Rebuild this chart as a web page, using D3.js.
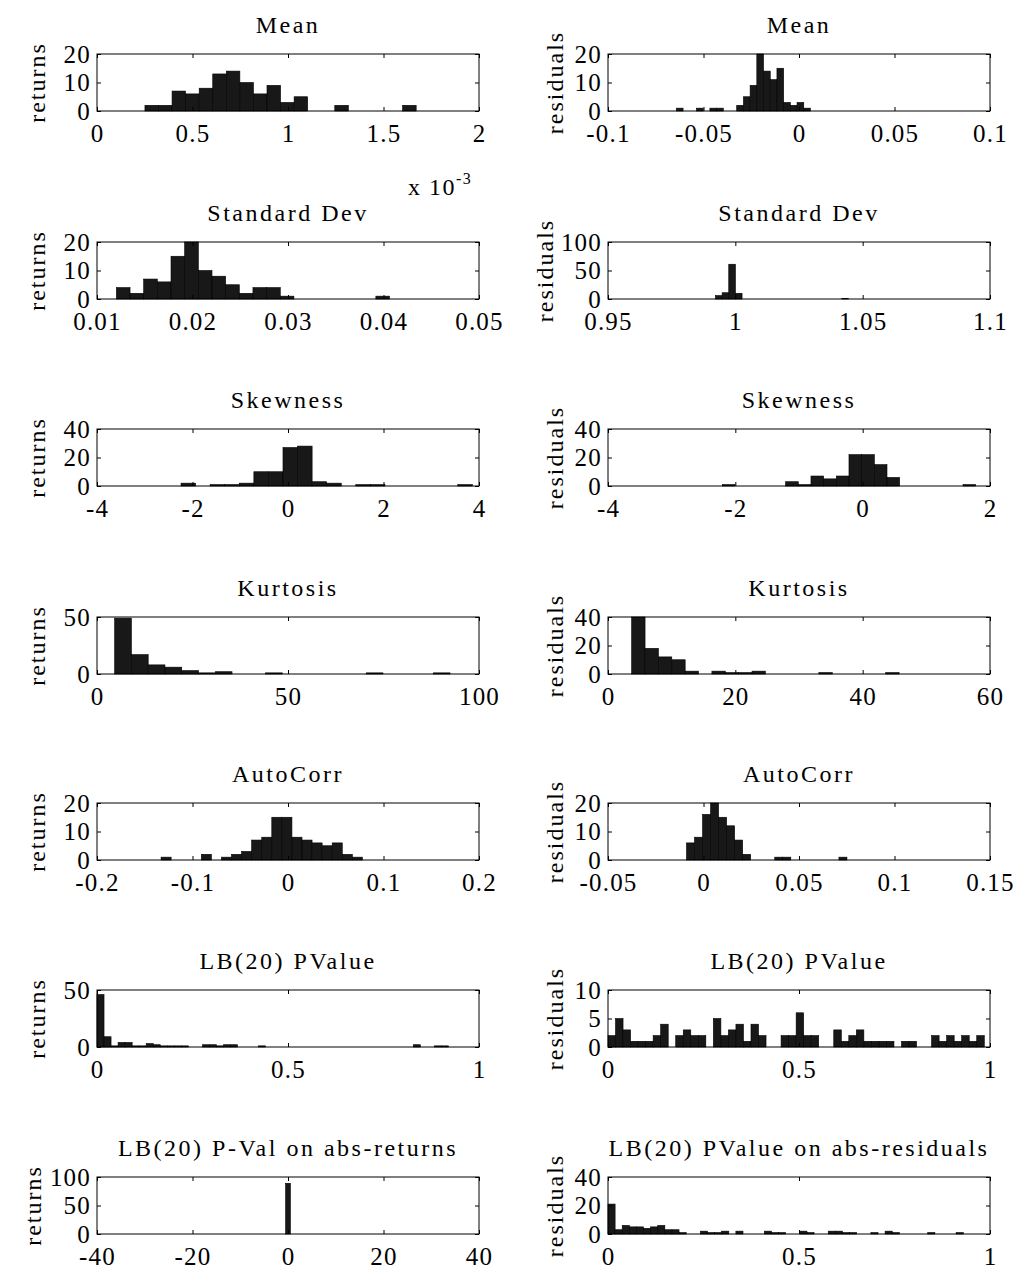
<!DOCTYPE html>
<html>
<head>
<meta charset="utf-8">
<script src="https://cdn.jsdelivr.net/npm/d3@7"></script>
<style>
  body { margin: 0; background: #fff; }
  text { font-family: "Liberation Serif", "Times New Roman", serif; fill: #000; }
</style>
</head>
<body>
<div id="chart"></div>
<script>
// panel titles
var titlesLeft = ["Mean", "Standard Dev", "Skewness", "Kurtosis", "AutoCorr", "LB(20) PValue", "LB(20) P-Val on abs-returns"];
var titlesRight = ["Mean", "Standard Dev", "Skewness", "Kurtosis", "AutoCorr", "LB(20) PValue", "LB(20) PValue on abs-residuals"];

// x tick labels (first and last are the axis limits)
var xTicksLeft = [[0, 0.5, 1, 1.5, 2], [0.01, 0.02, 0.03, 0.04, 0.05], [-4, -2, 0, 2, 4], [0, 50, 100],
                  [-0.2, -0.1, 0, 0.1, 0.2], [0, 0.5, 1], [-40, -20, 0, 20, 40]];
var xTicksRight = [[-0.1, -0.05, 0, 0.05, 0.1], [0.95, 1, 1.05, 1.1], [-4, -2, 0, 2], [0, 20, 40, 60],
                   [-0.05, 0, 0.05, 0.1, 0.15], [0, 0.5, 1], [0, 0.5, 1]];
// y tick labels
var yTicksLeft = [[0, 10, 20], [0, 10, 20], [0, 20, 40], [0, 50], [0, 10, 20], [0, 50], [0, 50, 100]];
var yTicksRight = [[0, 10, 20], [0, 50, 100], [0, 20, 40], [0, 20, 40], [0, 10, 20], [0, 5, 10], [0, 20, 40]];

// histogram bins: first edge and bin width (in axis units)
var binStartLeft = [0.251, 0.01203, -2.24, 4.62, -0.1329, 0, -25.5];
var binWidthLeft = [0.071, 0.00143, 0.305, 4.39, 0.01054, 0.0184, 1];
var binStartRight = [-0.0642, 0.9922, -2.205, 3.72, -0.0089, 0, 0];
var binWidthRight = [0.00351, 0.00261, 0.199, 2.1, 0.0042, 0.0197, 0.0186];

// counts, returns (left column)
var meanRet = [2, 2, 7, 6, 8, 13, 14, 10, 6, 9, 3, 5, 0, 0, 2, 0, 0, 0, 0, 2];
var stdRet = [4, 2, 7, 6, 15, 20, 10, 8, 5, 2, 4, 4, 1, 0, 0, 0, 0, 0, 0, 1];
var skewRet = [2, 0, 1, 1, 2, 10, 10, 27, 28, 3, 2, 0, 1, 1, 0, 0, 0, 0, 0, 1];
var kurtRet = [49, 17, 8, 6, 3, 1, 2, 0, 0, 1, 0, 0, 0, 0, 0, 1, 0, 0, 0, 1];
var acRet = [1, 0, 0, 0, 2, 0, 1, 2, 3, 7, 8, 15, 15, 8, 7, 6, 5, 6, 2, 1];
var lbRet = [46, 9, 1, 4, 4, 1, 1, 3, 2, 1, 1, 1, 1, 0, 0, 2, 2, 1, 2, 2, 0, 0, 0, 1, 0,
             0, 0, 0, 0, 0, 0, 0, 0, 0, 0, 0, 0, 0, 0, 0, 0, 0, 0, 0, 0, 2, 0, 0, 1, 1];
var lbAbsRet = [0, 0, 0, 0, 0, 0, 0, 0, 0, 0, 0, 0, 0, 0, 0, 0, 0, 0, 0, 0, 0, 0, 0, 0, 0,
                89, 0, 0, 0, 0, 0, 0, 0, 0, 0, 0, 0, 0, 0, 0, 0, 0, 0, 0, 0, 0, 0, 0, 0, 0];

// counts, residuals (right column)
var meanRes = [1, 0, 0, 1, 0, 1, 1, 0, 0, 2, 5, 9, 20, 14, 11, 15, 3, 2, 3, 1];
var stdRes = [6, 11, 61, 10, 0, 0, 0, 0, 0, 0, 0, 0, 0, 0, 0, 0, 0, 0, 0, 1];
var skewRes = [1, 0, 0, 0, 0, 3, 1, 7, 5, 7, 22, 22, 15, 6, 0, 0, 0, 0, 0, 1];
var kurtRes = [40, 18, 12, 10, 2, 0, 2, 1, 1, 2, 0, 0, 0, 0, 1, 0, 0, 0, 0, 1];
var acRes = [6, 8, 16, 20, 15, 12, 7, 2, 0, 0, 0, 1, 1, 0, 0, 0, 0, 0, 0, 1];
var lbRes = [2, 5, 3, 1, 1, 1, 2, 4, 0, 2, 3, 2, 2, 0, 5, 2, 3, 4, 1, 4, 2, 0, 0, 2, 2,
             6, 2, 2, 0, 0, 3, 1, 2, 3, 1, 1, 1, 1, 0, 1, 1, 0, 0, 2, 1, 2, 1, 2, 1, 2];
var lbAbsRes = [21, 3, 6, 5, 5, 4, 5, 6, 3, 3, 1, 0, 0, 2, 1, 1, 2, 0, 2, 0, 0, 0, 2, 1, 1,
                0, 0, 2, 1, 0, 0, 2, 2, 1, 1, 0, 0, 1, 0, 2, 1, 0, 0, 0, 0, 1, 0, 0, 0, 1];

var countsLeft = [meanRet, stdRet, skewRet, kurtRet, acRet, lbRet, lbAbsRet];
var countsRight = [meanRes, stdRes, skewRes, kurtRes, acRes, lbRes, lbAbsRes];

// layout
var W = 1020, H = 1270;
var colX = [97, 608], colW = 382;
var rowY = [54, 242, 429, 617, 803, 990, 1177], rowH = 57;

var svg = d3.select("#chart").append("svg")
    .attr("width", W)
    .attr("height", H)
    .style("background", "#fff");

function fmt(v) { return String(v); }

function drawPanel(col, row, title, xt, yt, start, bw, counts, ylab) {
  var g = svg.append("g")
      .attr("transform", "translate(" + colX[col] + "," + rowY[row] + ")");

  var x = d3.scaleLinear().domain([xt[0], xt[xt.length - 1]]).range([0, colW]);
  var y = d3.scaleLinear().domain([yt[0], yt[yt.length - 1]]).range([rowH, 0]);

  var bins = counts.map(function(c, i) {
    return {x0: start + i * bw, x1: start + (i + 1) * bw, n: c};
  }).filter(function(d) { return d.n > 0; });

  g.selectAll("rect.bar")
    .data(bins)
    .enter().append("rect")
      .attr("class", "bar")
      .attr("x", function(d) { return x(d.x0); })
      .attr("y", function(d) { return y(d.n); })
      .attr("width", function(d) { return x(d.x1) - x(d.x0); })
      .attr("height", function(d) { return rowH - y(d.n); })
      .attr("fill", "#181818")
      .attr("stroke", "#000")
      .attr("stroke-width", 0.6);

  // bottom axis with labels, ticks pointing in
  var xb = g.append("g")
      .attr("transform", "translate(0," + rowH + ")")
      .call(d3.axisBottom(x).tickValues(xt).tickSizeInner(-4).tickSizeOuter(0).tickPadding(13).tickFormat(fmt));
  // top ticks
  var xtp = g.append("g")
      .call(d3.axisTop(x).tickValues(xt).tickSizeInner(-4).tickSizeOuter(0).tickFormat(""));
  // left axis with labels
  var yl = g.append("g")
      .call(d3.axisLeft(y).tickValues(yt).tickSizeInner(-4).tickSizeOuter(0).tickPadding(6).tickFormat(fmt));
  // right ticks
  var yr = g.append("g")
      .attr("transform", "translate(" + colW + ",0)")
      .call(d3.axisRight(y).tickValues(yt).tickSizeInner(-4).tickSizeOuter(0).tickFormat(""));

  [xb, xtp, yl, yr].forEach(function(a) {
    a.select(".domain").remove();
    a.selectAll("line").attr("stroke", "#000").attr("stroke-width", 1);
    a.selectAll("text")
      .attr("font-family", "Liberation Serif, Times New Roman, serif")
      .attr("font-size", 25)
      .attr("letter-spacing", 1.2)
      .attr("fill", "#000");
  });

  // box
  g.append("rect")
    .attr("width", colW)
    .attr("height", rowH)
    .attr("fill", "none")
    .attr("stroke", "#000")
    .attr("stroke-width", 1);

  // title
  g.append("text")
    .attr("x", colW / 2)
    .attr("y", -21)
    .attr("text-anchor", "middle")
    .attr("font-size", 24)
    .attr("letter-spacing", 2.5)
    .text(title);

  // y label, pushed left when the tick labels are wide
  var wide = String(yt[yt.length - 1]).length > 2;
  var lx = col == 0 ? (wide ? -64 : -60) : (wide ? -63 : -53);
  g.append("text")
    .attr("transform", "translate(" + lx + "," + (rowH / 2) + ") rotate(-90)")
    .attr("text-anchor", "middle")
    .attr("dominant-baseline", "central")
    .attr("font-size", 24)
    .attr("letter-spacing", 2)
    .text(ylab);
}

for (var r = 0; r < 7; r++) {
  drawPanel(0, r, titlesLeft[r], xTicksLeft[r], yTicksLeft[r], binStartLeft[r], binWidthLeft[r], countsLeft[r], "returns");
  drawPanel(1, r, titlesRight[r], xTicksRight[r], yTicksRight[r], binStartRight[r], binWidthRight[r], countsRight[r], "residuals");
}

// scale note for the first left panel
var note = svg.append("text")
    .attr("x", 408)
    .attr("y", 195)
    .attr("font-size", 24)
    .attr("letter-spacing", 1.5);
note.append("tspan").text("x 10");
note.append("tspan").attr("dy", -11).attr("font-size", 16).text("-3");
</script>
</body>
</html>
